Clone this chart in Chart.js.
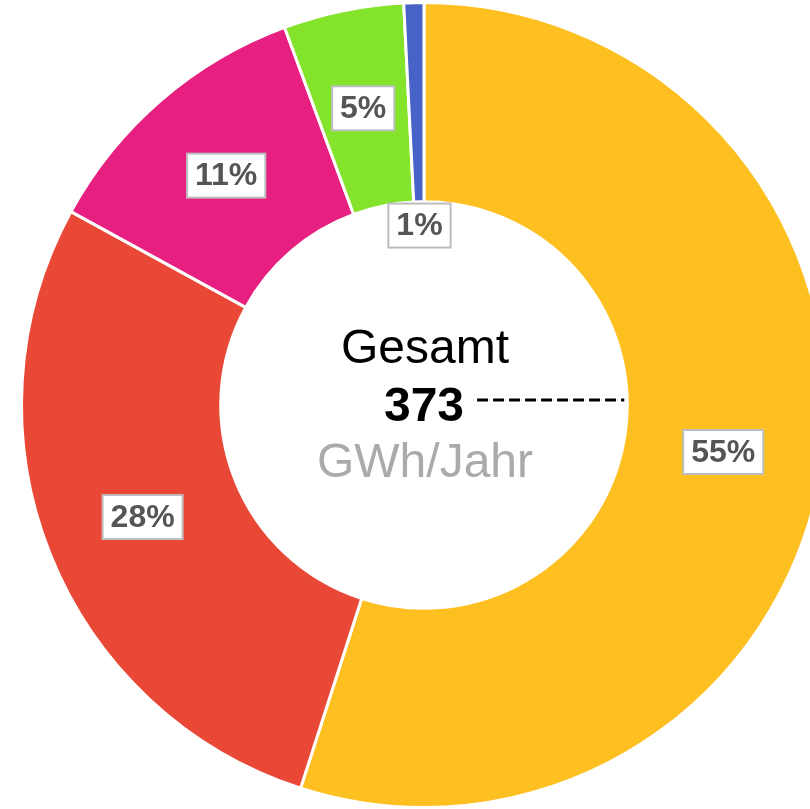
<!DOCTYPE html>
<html>
<head>
<meta charset="utf-8">
<script src="https://cdn.jsdelivr.net/npm/chart.js@4/dist/chart.umd.min.js"></script>
<style>
  html, body { margin: 0; padding: 0; overflow: hidden; background: #fff; width: 810px; height: 809px; }
  #wrap { position: absolute; left: 0; top: 0; width: 850px; height: 810px; }
</style>
</head>
<body>
<div id="wrap"><canvas id="c" width="850" height="810"></canvas></div>
<script>
// Data (GWh/Jahr), clockwise from 12 o'clock
const categories = ['Kategorie A', 'Kategorie B', 'Kategorie C', 'Kategorie D', 'Kategorie E'];
const values = [205, 104.5, 42.5, 18, 3];
const colors = ['#FEBF20', '#EA4836', '#E71F80', '#84E42B', '#4763C8'];
const centerTitle = 'Gesamt';
const centerUnit = 'GWh/Jahr';

const FONT = "'Liberation Sans', Arial, Helvetica, sans-serif";

const labelPlugin = {
  id: 'sliceLabels',
  afterDatasetsDraw(chart) {
    const ctx = chart.ctx;
    const meta = chart.getDatasetMeta(0);
    const data = chart.data.datasets[0].data;
    const total = data.reduce((a, b) => a + b, 0);
    ctx.save();
    ctx.font = 'bold 32px ' + FONT;
    ctx.textAlign = 'center';
    ctx.textBaseline = 'middle';
    meta.data.forEach((arc, i) => {
      const pct = data[i] / total * 100;
      const txt = Math.round(pct) + '%';
      const tw = ctx.measureText(txt).width;
      const bw = tw + 16, bh = 44;
      const p = arc.getProps(['x', 'y', 'startAngle', 'endAngle', 'innerRadius', 'outerRadius'], true);
      const mid = (p.startAngle + p.endAngle) / 2;
      let cx, cy;
      if (pct < 2) {
        // small slice: anchor at inner edge, label drawn toward centre
        const dx = Math.cos(mid), dy = Math.sin(mid);
        const r = p.innerRadius - (Math.abs(dx) * bw / 2 + Math.abs(dy) * bh / 2) - 1;
        cx = p.x + dx * r; cy = p.y + dy * r;
      } else {
        const pos = arc.tooltipPosition(true);
        cx = pos.x; cy = pos.y;
      }
      ctx.fillStyle = '#ffffff';
      ctx.fillRect(cx - bw / 2, cy - bh / 2, bw, bh);
      ctx.strokeStyle = '#BDBDBD';
      ctx.lineWidth = 2;
      ctx.strokeRect(cx - bw / 2, cy - bh / 2, bw, bh);
      ctx.fillStyle = '#555555';
      ctx.fillText(txt, cx, cy + 1);
    });
    ctx.restore();
  }
};

const centerPlugin = {
  id: 'centerText',
  afterDraw(chart) {
    const ctx = chart.ctx;
    const meta = chart.getDatasetMeta(0);
    const arc = meta.data[0];
    const p = arc.getProps(['x', 'y', 'innerRadius'], true);
    const total = chart.data.datasets[0].data.reduce((a, b) => a + b, 0);
    ctx.save();
    ctx.textAlign = 'center';
    ctx.textBaseline = 'alphabetic';
    ctx.fillStyle = '#000000';
    ctx.font = '48px ' + FONT;
    ctx.fillText(centerTitle, p.x + 1, p.y - 42);
    ctx.font = 'bold 48px ' + FONT;
    const numTxt = String(Math.round(total));
    ctx.fillText(numTxt, p.x, p.y + 16);
    const nw = ctx.measureText(numTxt).width;
    ctx.fillStyle = '#AAAAAA';
    ctx.font = '48px ' + FONT;
    ctx.fillText(centerUnit, p.x + 1, p.y + 72);
    // dashed leader line
    ctx.strokeStyle = '#000000';
    ctx.lineWidth = 3;
    ctx.setLineDash([11, 5]);
    ctx.beginPath();
    ctx.moveTo(p.x + nw / 2 + 13, p.y - 5);
    ctx.lineTo(p.x + p.innerRadius - 3, p.y - 5);
    ctx.stroke();
    ctx.restore();
  }
};

new Chart(document.getElementById('c'), {
  type: 'doughnut',
  data: {
    labels: categories,
    datasets: [{
      data: values,
      backgroundColor: colors,
      borderColor: '#ffffff',
      borderWidth: 3
    }]
  },
  options: {
    responsive: false,
    animation: false,
    cutout: '50.5%',
    layout: { padding: { left: 20, top: 1, bottom: 1, right: 22 } },
    plugins: { legend: { display: false }, tooltip: { enabled: false } }
  },
  plugins: [labelPlugin, centerPlugin]
});
</script>
</body>
</html>
